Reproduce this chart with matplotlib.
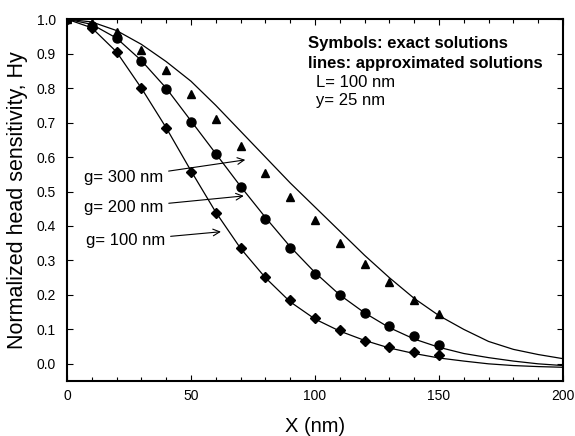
import numpy as np
import matplotlib
matplotlib.use('Agg')
import matplotlib.pyplot as plt
from matplotlib.ticker import MultipleLocator

plt.rcParams['font.family'] = ['Liberation Sans', 'DejaVu Sans']

# exact solutions (symbols)
x_pts = [0, 10, 20, 30, 40, 50, 60, 70, 80, 90, 100, 110, 120, 130, 140, 150]
g100_pts = [1.0, 0.975, 0.904, 0.80, 0.683, 0.558, 0.439, 0.337, 0.253, 0.186,
            0.134, 0.099, 0.067, 0.050, 0.035, 0.026]
g200_pts = [1.0, 0.98, 0.945, 0.878, 0.797, 0.703, 0.608, 0.512, 0.420, 0.337,
            0.262, 0.200, 0.148, 0.110, 0.081, 0.055]
g300_pts = [1.0, 0.99, 0.963, 0.91, 0.852, 0.782, 0.709, 0.631, 0.555, 0.483,
            0.416, 0.352, 0.290, 0.236, 0.186, 0.145]

# approximated solutions (lines)
x_line = [0, 10, 20, 30, 40, 50, 60, 70, 80, 90, 100, 110, 120, 130, 140, 150,
          160, 170, 180, 190, 200]
g100_line = [1.0, 0.975, 0.905, 0.80, 0.685, 0.56, 0.44, 0.335, 0.25, 0.18,
             0.13, 0.095, 0.068, 0.046, 0.03, 0.017, 0.008, 0.0, -0.005, -0.008, -0.01]
g200_line = [1.0, 0.985, 0.945, 0.88, 0.80, 0.705, 0.61, 0.515, 0.425, 0.34,
             0.265, 0.20, 0.148, 0.105, 0.072, 0.048, 0.03, 0.018, 0.008, 0.0, -0.005]
g300_line = [1.0, 0.992, 0.967, 0.927, 0.877, 0.82, 0.75, 0.675, 0.60, 0.525,
             0.455, 0.385, 0.315, 0.25, 0.19, 0.14, 0.10, 0.065, 0.042, 0.027, 0.015]

fig = plt.figure(figsize=(5.75, 4.36), dpi=100)
ax = fig.add_axes([0.1165, 0.126, 0.8625, 0.83])

for yl in (g100_line, g200_line, g300_line):
    ax.plot(x_line, yl, color='black', lw=0.9)

ax.plot(x_pts, g100_pts, 'D', color='black', ms=5)
ax.plot(x_pts, g200_pts, 'o', color='black', ms=6.5)
ax.plot(x_pts, g300_pts, '^', color='black', ms=6)

ax.set_xlim(0, 200)
ax.set_ylim(-0.05, 1.0)
ax.xaxis.set_major_locator(MultipleLocator(50))
ax.xaxis.set_minor_locator(MultipleLocator(10))
ax.yaxis.set_major_locator(MultipleLocator(0.1))
ax.yaxis.set_major_formatter(matplotlib.ticker.FormatStrFormatter('%.1f'))
ax.tick_params(which='both', direction='in', top=True, right=True, labelsize=10)
ax.tick_params(axis='y', pad=8)
ax.tick_params(axis='x', pad=6)
ax.tick_params(which='major', length=4, width=0.8)
ax.tick_params(which='minor', length=3, width=0.8)
for s in ax.spines.values():
    s.set_linewidth(1.5)

ax.set_xlabel('X (nm)', fontsize=14.5, labelpad=10)
ax.set_ylabel('Normalized head sensitivity, Hy', fontsize=15.5, labelpad=6)

ax.text(97, 0.93, 'Symbols: exact solutions', fontsize=12, fontweight='bold', va='center')
ax.text(97, 0.872, 'lines: approximated solutions', fontsize=12, fontweight='bold', va='center')
ax.text(100.5, 0.817, 'L= 100 nm', fontsize=12, va='center')
ax.text(100.5, 0.765, 'y= 25 nm', fontsize=12, va='center')

arrow = dict(arrowstyle='->', color='black', lw=0.8)
ax.annotate('g= 300 nm', xy=(73, 0.593), xytext=(6.8, 0.54), fontsize=12,
            va='center', arrowprops=arrow)
ax.annotate('g= 200 nm', xy=(72.4, 0.488), xytext=(6.8, 0.453), fontsize=12,
            va='center', arrowprops=arrow)
ax.annotate('g= 100 nm', xy=(63.2, 0.384), xytext=(7.6, 0.358), fontsize=12,
            va='center', arrowprops=arrow)

fig.savefig('out.png', dpi=100)
